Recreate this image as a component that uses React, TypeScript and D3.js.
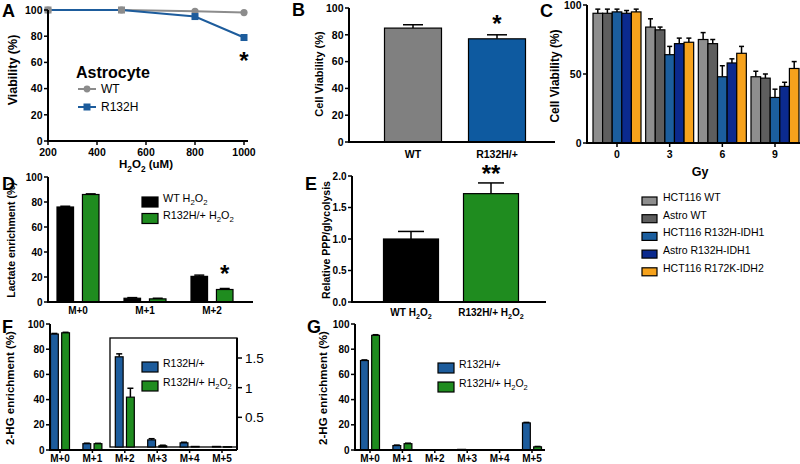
import React from 'react';
import * as d3 from 'd3';

const FONT = "'Liberation Sans', Arial, Helvetica, sans-serif";
const BLUE = '#1d5c9c';
const GREEN = '#1f8c1f';

// ---------- Panel A ----------
const aDoses = [200, 500, 800, 1000];
const aWT = [100, 100, 99, 98];
const aR132H = [100, 100, 95, 79];
const aXTicks = [200, 400, 600, 800, 1000];
const aYTicks = [0, 20, 40, 60, 80, 100];

// ---------- Panel B ----------
const bCats = ['WT', 'R132H/+'];
const bVals = [85, 77];
const bErr = [2.5, 3];
const bYTicks = [0, 20, 40, 60, 80, 100];

// ---------- Panel C ----------
const cDoses = ['0', '3', '6', '9'];
const cNames = ['HCT116 WT', 'Astro WT', 'HCT116 R132H-IDH1', 'Astro R132H-IDH1', 'HCT116 R172K-IDH2'];
const cHCT116WT = [94, 84, 75, 48];
const cAstroWT = [94, 82, 72, 47];
const cHCT116R132H = [95, 64, 48, 33];
const cAstroR132H = [94, 72, 58, 41];
const cHCT116R172K = [95, 73, 65, 54];
const cHCT116WTErr = [3, 6, 5, 4];
const cAstroWTErr = [3, 2, 3, 3];
const cHCT116R132HErr = [2, 6, 8, 6];
const cAstroR132HErr = [2, 4, 3, 3];
const cHCT116R172KErr = [2, 3, 5, 5];
const cColors = ['#8e8e8e', '#5e5e5e', '#1b5e9e', '#0b2a8e', '#f6a21c'];
const cYTicks = [0, 50, 100];

// ---------- Panel D ----------
const dCats = ['M+0', 'M+1', 'M+2'];
const dNames = ['WT H₂O₂', 'R132H/+ H₂O₂'];
const dWT = [76, 3, 20.5];
const dR132H = [86, 2.5, 10];
const dWTErr = [0.6, 0.5, 1];
const dR132HErr = [0.5, 0.5, 0.8];
const dYTicks = [0, 20, 40, 60, 80, 100];

// ---------- Panel E ----------
const eCats = ['WT H₂O₂', 'R132H/+ H₂O₂'];
const eVals = [1.0, 1.72];
const eErr = [0.12, 0.17];
const eYTicks = [0, 0.5, 1.0, 1.5, 2.0];

// ---------- Panel F ----------
const fCats = ['M+0', 'M+1', 'M+2', 'M+3', 'M+4', 'M+5'];
const fNames = ['R132H/+', 'R132H/+ H₂O₂'];
// M+0, M+1 on main axis (%), M+2..M+5 on inset axis
const fR132H = [92, 5, 1.52, 0.12, 0.07, 0.01];
const fR132HH2O2 = [93, 5, 0.84, 0.02, 0.01, 0.005];
const fR132HErr = [0.5, 0.4, 0.05, 0.02, 0.01, 0];
const fR132HH2O2Err = [0.4, 0.3, 0.15, 0.01, 0, 0];
const fYTicks = [0, 20, 40, 60, 80, 100];
const fInsetTicks = [0.5, 1, 1.5];

// ---------- Panel G ----------
const gCats = ['M+0', 'M+1', 'M+2', 'M+3', 'M+4', 'M+5'];
const gR132H = [71, 3.5, 0, 0.5, 0.3, 21.5];
const gR132HH2O2 = [91, 5, 0, 0.3, 0, 2.5];
const gR132HErr = [0.5, 0.4, 0, 0, 0, 0.4];
const gR132HH2O2Err = [0.5, 0.4, 0, 0, 0, 0.3];
const gYTicks = [0, 20, 40, 60, 80, 100];

function richText(s: string, fs: number) {
  const parts = s.split(/(₂)/);
  const out: any[] = [];
  let lowered = false;
  const sh = fs * 0.32;
  parts.forEach((p, i) => {
    if (p === '₂') {
      out.push(<tspan key={i} dy={lowered ? 0 : sh} fontSize={fs * 0.72}>2</tspan>);
      lowered = true;
    } else if (p) {
      out.push(<tspan key={i} dy={lowered ? -sh : 0}>{p}</tspan>);
      lowered = false;
    }
  });
  return out;
}

function YAxis({ x, scale, ticks, fmt, fs = 10, tl = 4 }: any) {
  const top = scale(ticks[ticks.length - 1]);
  const bot = scale(ticks[0]);
  return (
    <g>
      <line x1={x} x2={x} y1={top} y2={bot + 1} stroke="#000" strokeWidth={2} />
      {ticks.map((t: number) => (
        <g key={t}>
          <line x1={x - tl} x2={x} y1={scale(t)} y2={scale(t)} stroke="#000" strokeWidth={1.5} />
          <text x={x - tl - 1.5} y={scale(t)} dy="0.36em" textAnchor="end" fontSize={fs} fontWeight="bold">
            {fmt ? fmt(t) : t}
          </text>
        </g>
      ))}
    </g>
  );
}

function XAxis({ y, x0, x1, ticks, fs = 10, tl = 4, ly = 13 }: any) {
  return (
    <g>
      <line x1={x0 - 1} x2={x1} y1={y} y2={y} stroke="#000" strokeWidth={2} />
      {ticks.map((t: any, i: number) => (
        <g key={i}>
          {tl > 0 && <line x1={t.x} x2={t.x} y1={y} y2={y + tl} stroke="#000" strokeWidth={1.5} />}
          <text x={t.x} y={y + ly} textAnchor="middle" fontSize={fs} fontWeight="bold">
            {richText(t.label, fs)}
          </text>
        </g>
      ))}
    </g>
  );
}

function Bar({ x, w, y0, y1, fill, err = 0, errY = 0, cap = 6 }: any) {
  const top = Math.min(y0, y1);
  const h = Math.abs(y0 - y1);
  const cx = x + w / 2;
  return (
    <g>
      {err > 0 && (
        <g stroke="#000" strokeWidth={1.5}>
          <line x1={cx} x2={cx} y1={top} y2={errY} />
          <line x1={cx - cap / 2} x2={cx + cap / 2} y1={errY} y2={errY} />
        </g>
      )}
      <rect x={x} y={top} width={w} height={Math.max(h, 0.5)} fill={fill} stroke="#000" strokeWidth={1.2} />
    </g>
  );
}

function YLabel({ x, y, text, fs = 11 }: any) {
  return (
    <text transform={`translate(${x},${y}) rotate(-90)`} textAnchor="middle" fontSize={fs} fontWeight="bold">
      {richText(text, fs)}
    </text>
  );
}

function Letter({ x, y, t }: any) {
  return (
    <text x={x} y={y} fontSize={18} fontWeight="bold">{t}</text>
  );
}

function LegendBox({ x, y, color, label, fs = 11, w = 16, h = 10, tx = 22 }: any) {
  return (
    <g>
      <rect x={x} y={y - h / 2} width={w} height={h} fill={color} stroke="#000" strokeWidth={1.2} />
      <text x={x + tx} y={y} dy="0.36em" fontSize={fs}>{richText(label, fs)}</text>
    </g>
  );
}

function PanelA() {
  const x = d3.scaleLinear().domain([200, 1000]).range([48, 244]);
  const y = d3.scaleLinear().domain([0, 100]).range([141, 10]);
  const line = d3.line<number>().x((_, i) => x(aDoses[i])).y((d) => y(d));
  return (
    <g>
      <Letter x={2} y={17} t="A" />
      <path d={line(aWT) || ''} fill="none" stroke="#8c8c8c" strokeWidth={2} />
      <path d={line(aR132H) || ''} fill="none" stroke={BLUE} strokeWidth={2} />
      {aWT.map((v, i) => (
        <circle key={'w' + i} cx={x(aDoses[i])} cy={y(v)} r={3.6} fill="#8c8c8c" />
      ))}
      {aR132H.map((v, i) => (
        <rect key={'r' + i} x={x(aDoses[i]) - 3.5} y={y(v) - 3.5} width={7} height={7} fill={i < 2 ? '#8c8c8c' : BLUE} />
      ))}
      <YAxis x={48} scale={y} ticks={aYTicks} fs={10.5} />
      <XAxis y={141} x0={48} x1={248} ticks={aXTicks.map((t) => ({ x: x(t), label: String(t) }))} fs={10.5} ly={15} />
      <text x={146} y={168} textAnchor="middle" fontSize={11.5} fontWeight="bold">
        {richText('H₂O₂ (uM)', 11.5)}
      </text>
      <YLabel x={17} y={70} text="Viability (%)" fs={12.5} />
      <text x={x(1000)} y={69} textAnchor="middle" fontSize={24} fontWeight="bold">*</text>
      <text x={76} y={78} fontSize={16} fontWeight="bold">Astrocyte</text>
      <line x1={78} x2={96} y1={89} y2={89} stroke="#8c8c8c" strokeWidth={2} />
      <circle cx={87} cy={89} r={3.4} fill="#8c8c8c" />
      <text x={101} y={89} dy="0.36em" fontSize={12}>WT</text>
      <line x1={78} x2={96} y1={107} y2={107} stroke={BLUE} strokeWidth={2} />
      <rect x={83.5} y={103.5} width={7} height={7} fill={BLUE} />
      <text x={101} y={107} dy="0.36em" fontSize={12}>R132H</text>
    </g>
  );
}

function PanelB() {
  const x = d3.scalePoint<string>().domain(bCats).range([413, 497]);
  const y = d3.scaleLinear().domain([0, 100]).range([142, 8]);
  const w = 57;
  const fills = ['#808080', '#0e5aa0'];
  return (
    <g>
      <Letter x={292} y={16} t="B" />
      {bCats.map((c, i) => (
        <Bar key={c} x={(x(c) as number) - w / 2} w={w} y0={y(0)} y1={y(bVals[i])} fill={fills[i]}
          err={bErr[i]} errY={y(bVals[i] + bErr[i])} cap={20} />
      ))}
      <YAxis x={349} scale={y} ticks={bYTicks} fs={10.5} />
      <XAxis y={142} x0={349} x1={555} tl={0} ticks={bCats.map((c) => ({ x: x(c), label: c }))} fs={10.5} ly={16} />
      <YLabel x={323} y={74} text="Cell Viability (%)" fs={11} />
      <text x={x('R132H/+')} y={32} textAnchor="middle" fontSize={24} fontWeight="bold">*</text>
    </g>
  );
}

function PanelC() {
  const gx = d3.scalePoint<string>().domain(cDoses).range([617, 775]);
  const y = d3.scaleLinear().domain([0, 100]).range([143, 5]);
  const inner = d3.scaleBand<string>().domain(cNames).range([-24, 24]);
  const vals = [cHCT116WT, cAstroWT, cHCT116R132H, cAstroR132H, cHCT116R172K];
  const errs = [cHCT116WTErr, cAstroWTErr, cHCT116R132HErr, cAstroR132HErr, cHCT116R172KErr];
  return (
    <g>
      <Letter x={540} y={17} t="C" />
      {cDoses.map((d, gi) =>
        cNames.map((n, si) => (
          <Bar key={d + n} x={(gx(d) as number) + (inner(n) as number)} w={inner.bandwidth()}
            y0={y(0)} y1={y(vals[si][gi])} fill={cColors[si]}
            err={errs[si][gi]} errY={y(vals[si][gi] + errs[si][gi])} cap={5} />
        ))
      )}
      <YAxis x={587} scale={y} ticks={cYTicks} fs={10.5} />
      <XAxis y={143} x0={587} x1={800} ticks={cDoses.map((d) => ({ x: gx(d), label: d }))} fs={10.5} ly={15} />
      <text x={700} y={176} textAnchor="middle" fontSize={12.5} fontWeight="bold">Gy</text>
      <YLabel x={559} y={76} text="Cell Viability (%)" fs={12} />
      {cNames.map((n, i) => (
        <LegendBox key={n} x={642} y={201 + i * 17.7} color={cColors[i]} label={n} fs={10.5} w={15} h={8} tx={21} />
      ))}
    </g>
  );
}

function PanelD() {
  const gx = d3.scalePoint<string>().domain(dCats).range([78, 212]);
  const y = d3.scaleLinear().domain([0, 100]).range([302, 177]);
  const inner = d3.scaleBand<string>().domain(dNames).range([-21, 21]).paddingInner(0.35);
  const series = [dWT, dR132H];
  const errs = [dWTErr, dR132HErr];
  const cols = ['#000', GREEN];
  return (
    <g>
      <Letter x={2} y={190} t="D" />
      {dCats.map((c, gi) =>
        dNames.map((n, si) => (
          <Bar key={c + n} x={(gx(c) as number) + (inner(n) as number)} w={inner.bandwidth()}
            y0={y(0)} y1={y(series[si][gi])} fill={cols[si]}
            err={errs[si][gi]} errY={y(series[si][gi] + errs[si][gi])} cap={10} />
        ))
      )}
      <YAxis x={48} scale={y} ticks={dYTicks} fs={10} />
      <XAxis y={302} x0={48} x1={253} tl={0} ticks={dCats.map((c) => ({ x: gx(c), label: c }))} fs={10} ly={12} />
      <YLabel x={15} y={240} text="Lactate enrichment (%)" fs={10.5} />
      {dNames.map((n, i) => (
        <LegendBox key={n} x={142} y={202 + i * 16.5} color={cols[i]} label={n} fs={10.8} w={16} h={10} tx={21} />
      ))}
      <text x={(gx('M+2') as number) + 12.7} y={282} textAnchor="middle" fontSize={24} fontWeight="bold">*</text>
    </g>
  );
}

function PanelE() {
  const x = d3.scalePoint<string>().domain(eCats).range([411, 491]);
  const y = d3.scaleLinear().domain([0, 2]).range([302, 176]);
  const w = 55;
  const cols = ['#000', GREEN];
  return (
    <g>
      <Letter x={305} y={190} t="E" />
      {eCats.map((c, i) => (
        <Bar key={c} x={(x(c) as number) - w / 2} w={w} y0={y(0)} y1={y(eVals[i])} fill={cols[i]}
          err={eErr[i]} errY={y(eVals[i] + eErr[i])} cap={26} />
      ))}
      <YAxis x={352} scale={y} ticks={eYTicks} fmt={(t: number) => t.toFixed(1)} fs={10} />
      <XAxis y={302} x0={352} x1={546} tl={0} ticks={eCats.map((c) => ({ x: x(c), label: c }))} fs={10} ly={14} />
      <YLabel x={330} y={240} text="Relative PPP/glycolysis" fs={10.5} />
      <text x={x(eCats[1])} y={182} textAnchor="middle" fontSize={24} fontWeight="bold">**</text>
    </g>
  );
}

function PanelF() {
  const gx = d3.scalePoint<string>().domain(fCats).range([60, 222]);
  const y = d3.scaleLinear().domain([0, 100]).range([450, 324]);
  const yi = d3.scaleLinear().domain([0, 1.5]).range([447, 358]);
  const inner = d3.scaleBand<string>().domain(fNames).range([-9.5, 9.5]).paddingInner(0.3);
  const series = [fR132H, fR132HH2O2];
  const errs = [fR132HErr, fR132HH2O2Err];
  const cols = [BLUE, GREEN];
  return (
    <g>
      <Letter x={2} y={333} t="F" />
      <rect x={110} y={338} width={127} height={109} fill="none" stroke="#000" strokeWidth={1.3} />
      {fCats.map((c, gi) =>
        fNames.map((n, si) => {
          const sc = gi >= 2 ? yi : y;
          const v = series[si][gi];
          return (
            <Bar key={c + n} x={(gx(c) as number) + (inner(n) as number)} w={inner.bandwidth()}
              y0={sc(0)} y1={sc(v)} fill={cols[si]}
              err={errs[si][gi]} errY={sc(v + errs[si][gi])} cap={6} />
          );
        })
      )}
      <line x1={237} x2={237} y1={338} y2={450} stroke="#000" strokeWidth={2} />
      {fInsetTicks.map((t) => (
        <g key={t}>
          <line x1={237} x2={242} y1={yi(t)} y2={yi(t)} stroke="#000" strokeWidth={1.5} />
          <text x={245} y={yi(t)} dy="0.36em" fontSize={13.5}>{t}</text>
        </g>
      ))}
      <YAxis x={50} scale={y} ticks={fYTicks} fs={10} />
      <XAxis y={450} x0={50} x1={237} ticks={fCats.map((c) => ({ x: gx(c), label: c }))} fs={10} ly={12} tl={3} />
      <YLabel x={14} y={388} text="2-HG enrichment (%)" fs={11.5} />
      {fNames.map((n, i) => (
        <LegendBox key={n} x={142} y={367 + i * 19} color={cols[i]} label={n} fs={10.5} w={16} h={10} tx={21} />
      ))}
    </g>
  );
}

function PanelG() {
  const gx = d3.scalePoint<string>().domain(gCats).range([370, 532]);
  const y = d3.scaleLinear().domain([0, 100]).range([450, 324]);
  const inner = d3.scaleBand<string>().domain(fNames).range([-9.5, 9.5]).paddingInner(0.3);
  const series = [gR132H, gR132HH2O2];
  const errs = [gR132HErr, gR132HH2O2Err];
  const cols = [BLUE, GREEN];
  return (
    <g>
      <Letter x={307} y={333} t="G" />
      {gCats.map((c, gi) =>
        fNames.map((n, si) => {
          const v = series[si][gi];
          if (v <= 0) return null;
          return (
            <Bar key={c + n} x={(gx(c) as number) + (inner(n) as number)} w={inner.bandwidth()}
              y0={y(0)} y1={y(v)} fill={cols[si]}
              err={errs[si][gi]} errY={y(v + errs[si][gi])} cap={6} />
          );
        })
      )}
      <YAxis x={355} scale={y} ticks={gYTicks} fs={10} />
      <XAxis y={450} x0={355} x1={545} ticks={gCats.map((c) => ({ x: gx(c), label: c }))} fs={10} ly={12} tl={3} />
      <YLabel x={327} y={388} text="2-HG enrichment (%)" fs={11.5} />
      {fNames.map((n, i) => (
        <LegendBox key={n} x={438} y={368 + i * 19} color={cols[i]} label={n} fs={10.5} w={16} h={10} tx={21} />
      ))}
    </g>
  );
}

export default function App() {
  return (
    <svg width={800} height={464} viewBox="0 0 800 464"
      style={{ position: 'absolute', left: 0, top: 0, background: '#fff', fontFamily: FONT }}
      fontFamily={FONT}>
      <rect x={0} y={0} width={800} height={464} fill="#fff" />
      <PanelA />
      <PanelB />
      <PanelC />
      <PanelD />
      <PanelE />
      <PanelF />
      <PanelG />
    </svg>
  );
}
